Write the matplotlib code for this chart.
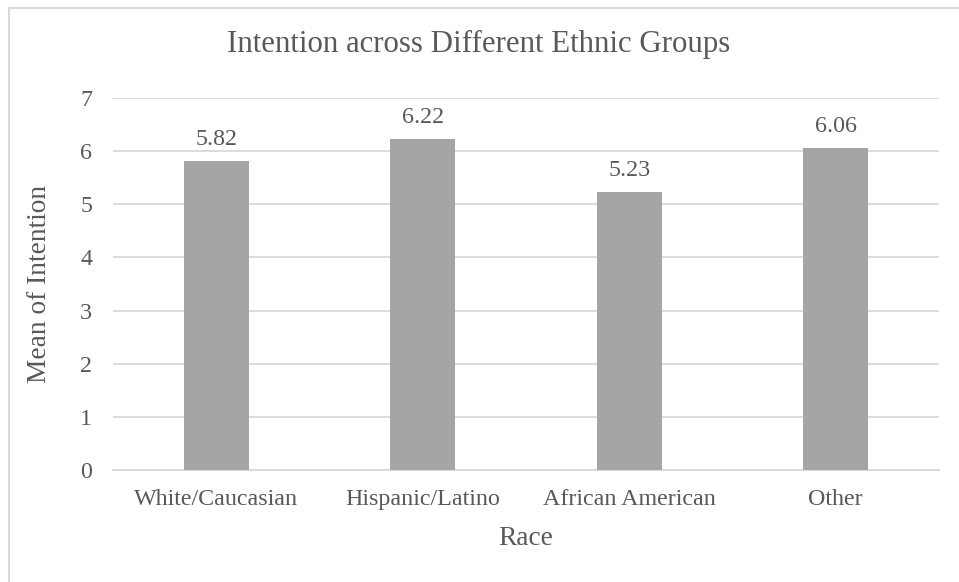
import matplotlib
matplotlib.use("Agg")
import matplotlib.pyplot as plt
from matplotlib.lines import Line2D

categories = ["White/Caucasian", "Hispanic/Latino", "African American", "Other"]
means = [5.82, 6.22, 5.23, 6.06]
y_ticks = [0, 1, 2, 3, 4, 5, 6, 7]

plt.rcParams["font.family"] = ["Liberation Serif", "DejaVu Serif"]
text_color = "#595959"
grid_color = "#D9D9D9"
bar_color = "#A5A5A5"

fig = plt.figure(figsize=(9.59, 5.82), dpi=100)
ax = fig.add_axes([0.1178, 0.1924, 0.8613, 0.6392])

x = range(len(categories))
ax.bar(x, means, width=0.315, color=bar_color, zorder=3)

for xi, v in zip(x, means):
    ax.annotate(f"{v:.2f}", (xi, v), xytext=(0, 8), textcoords="offset points",
                ha="center", va="bottom", fontsize=17.3, color=text_color)

ax.set_xlim(-0.5, len(categories) - 0.5)
ax.set_ylim(0, 7)
ax.set_yticks(y_ticks)
ax.set_yticklabels([str(t) for t in y_ticks])
ax.set_xticks(list(x))
ax.set_xticklabels(categories)
ax.tick_params(axis="both", length=0, labelsize=17.3, labelcolor=text_color)
ax.tick_params(axis="y", pad=15)
ax.tick_params(axis="x", pad=14)

ax.grid(axis="y", color=grid_color, linewidth=1.3, zorder=0)
for side in ["top", "right", "left"]:
    ax.spines[side].set_visible(False)
ax.spines["bottom"].set_color(grid_color)
ax.spines["bottom"].set_linewidth(1.3)

ax.set_xlabel("Race", fontsize=19.7, color=text_color, va="center")
ax.xaxis.set_label_coords(0.5, -0.183)
ax.set_ylabel("Mean of Intention", fontsize=19.7, color=text_color, va="center")
ax.yaxis.set_label_coords(-0.089, 0.5)
fig.text(0.4995, 0.924, "Intention across Different Ethnic Groups",
         ha="center", va="center", fontsize=22.2, color=text_color)

# chart frame (top and left edges)
fig.add_artist(Line2D([8.5 / 959, 1.0], [1 - 7.5 / 582] * 2, color=grid_color, linewidth=1.5))
fig.add_artist(Line2D([8.5 / 959] * 2, [0.0, 1 - 7.5 / 582], color=grid_color, linewidth=1.5))

fig.savefig("out.png", dpi=100, facecolor="white")
